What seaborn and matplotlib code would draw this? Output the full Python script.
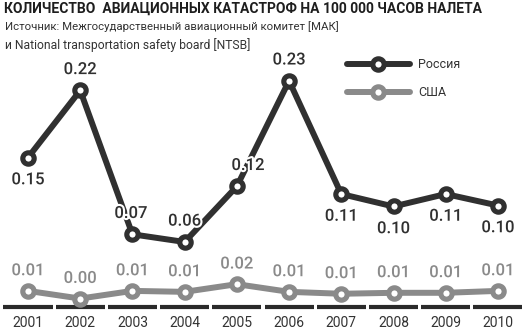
import matplotlib
matplotlib.use("Agg")
import matplotlib.pyplot as plt
import matplotlib.patheffects as pe
import seaborn as sns
import pandas as pd
import numpy as np

years = ["2001", "2002", "2003", "2004", "2005", "2006", "2007", "2008", "2009", "2010"]
russia = [0.148, 0.218, 0.068, 0.060, 0.118, 0.228, 0.110, 0.097, 0.110, 0.098]
usa = [0.009, 0.001, 0.009, 0.008, 0.016, 0.008, 0.006, 0.007, 0.007, 0.009]
russia_label_side = ["below", "above", "above", "above", "above", "above", "below", "below", "below", "below"]
russia_label_dx = [0, 0, -1, 0, 8, 0, 0, 0, 0, 0]

title = "КОЛИЧЕСТВО  АВИАЦИОННЫХ КАТАСТРОФ НА 100 000 ЧАСОВ НАЛЕТА"
sub1 = "Источник: Межгосударственный авиационный комитет [МАК]"
sub2 = "и National transportation safety board [NTSB]"

sns.set_theme(style="white")
plt.rcParams["font.family"] = ["Roboto", "DejaVu Sans"]

DARK = "#303030"
GRAY = "#8a8a8a"

fig = plt.figure(figsize=(5.23, 3.29), dpi=100)
W, H = 523, 329
ax = fig.add_axes([0, 22 / H, 1, 307 / H])

df = pd.DataFrame({"idx": np.arange(len(years)), "russia": russia, "usa": usa})

common = dict(marker="o", markersize=8.2, markeredgewidth=3.7, markerfacecolor="white",
              linewidth=4.3, solid_capstyle="round")
sns.lineplot(data=df, x="idx", y="russia", ax=ax, color=DARK, markeredgecolor=DARK,
             label="Россия", zorder=4, **common)
sns.lineplot(data=df, x="idx", y="usa", ax=ax, color=GRAY, markeredgecolor=GRAY,
             label="США", zorder=3, **common)

ax.set_xlim(-0.536, len(years) - 1 + 0.48)
ax.set_ylim(-0.0078, 0.3123)
for s in ax.spines.values():
    s.set_visible(False)
ax.set_xlabel("")
ax.set_ylabel("")
ax.set_yticks([])
ax.set_xticks(np.arange(len(years)), labels=years)
ax.tick_params(axis="x", length=0, pad=6.5, labelsize=10, labelcolor="#333333")

# segmented baseline
xs = np.arange(len(years))
ax.hlines([ax.get_ylim()[0]] * len(xs), xs - 0.47, xs + 0.47, color="#2a2a2a",
          linewidth=3, clip_on=False, zorder=2)

halo = [pe.withStroke(linewidth=3, foreground="white")]
for i, v in enumerate(russia):
    dy = 15 if russia_label_side[i] == "above" else -16
    ax.annotate(f"{v:.2f}", (i, v), xytext=(russia_label_dx[i], dy), textcoords="offset points",
                ha="center", va="center", fontsize=12, color=DARK, fontweight="medium",
                path_effects=halo, zorder=6)
for i, v in enumerate(usa):
    ax.annotate(f"{v:.2f}", (i, v), xytext=(0, 14.5), textcoords="offset points",
                ha="center", va="center", fontsize=12, color=GRAY, fontweight="medium",
                path_effects=halo, zorder=6)

leg = ax.legend(loc="upper left", bbox_to_anchor=(347 / W, 1 - 58 / H),
                bbox_transform=fig.transFigure, frameon=False, fontsize=9,
                handlelength=5.0, handletextpad=0.7, labelspacing=1.2,
                borderpad=0, borderaxespad=0, numpoints=1)
for t in leg.get_texts():
    t.set_color("#333333")

renderer = fig.canvas.get_renderer()

def fit_text(x, y, s, target_w, size, **kw):
    t = fig.text(x / W, 1 - y / H, s, fontsize=size, va="center", ha="left", **kw)
    w = t.get_window_extent(renderer).width
    t.set_fontsize(size * target_w / w)
    return t

fit_text(4, 9, title, 478, 11, fontweight="bold", color="#1e1e1e")
fit_text(5, 27, sub1, 336, 9, color="#333333")
fit_text(5, 45, sub2, 245, 9, color="#333333")

fig.savefig("out.png", dpi=100, facecolor="white")
